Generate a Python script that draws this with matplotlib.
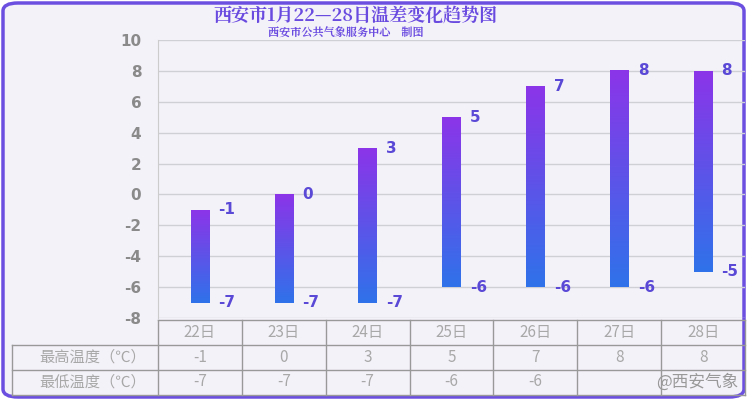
import numpy as np
import matplotlib
matplotlib.use("Agg")
import matplotlib.pyplot as plt
from matplotlib.patches import FancyBboxPatch
from matplotlib.colors import LinearSegmentedColormap

plt.rcParams['font.family'] = ['Noto Sans CJK SC', 'DejaVu Sans']

days = ["22日", "23日", "24日", "25日", "26日", "27日", "28日"]
highs = [-1, 0, 3, 5, 7, 8, 8]
lows = [-7, -7, -7, -6, -6, -6, -5]
table_lows = [-7, -7, -7, -6, -6, "", ""]

W, H = 747, 400
fig = plt.figure(figsize=(W / 100, H / 100), dpi=100)
fig.patch.set_facecolor("white")

def fx(px):
    return px / W

def fy(py):
    return 1 - py / H

# rounded frame
frame = FancyBboxPatch((fx(3), fy(397)), fx(741), 394 / H,
                       boxstyle="round,pad=0,rounding_size=0.02",
                       transform=fig.transFigure, facecolor="#f4f2f9",
                       edgecolor="#6b4fe0", linewidth=2.5, zorder=-5)
fig.patches.append(frame)

left, right, top, bottom = 158, 745, 40, 318
ax = fig.add_axes([fx(left), fy(bottom), fx(right - left), (bottom - top) / H])
ax.set_zorder(2)
ax.set_facecolor("none")
ax.set_yticks(range(-8, 11, 2))
ax.set_yticklabels([str(v) for v in range(-8, 11, 2)], color="#8a8a8a",
                   fontsize=11, fontweight="bold", family="DejaVu Sans")
ax.tick_params(axis="y", length=0, pad=12)
ax.set_xticks([])
ax.grid(axis="y", color="#cfcfd6", linewidth=1)
for s in ["top", "right", "bottom"]:
    ax.spines[s].set_visible(False)
ax.spines["left"].set_color("#cccccc")

cmap = LinearSegmentedColormap.from_list("g", ["#2f72ea", "#8b35e8"])
grad = np.linspace(0, 1, 100).reshape(-1, 1)
bw = 0.22
for i, (h, l) in enumerate(zip(highs, lows)):
    ax.imshow(grad, extent=(i - bw / 2, i + bw / 2, l, h), origin="lower",
              cmap=cmap, aspect="auto", zorder=3)
    ax.text(i + 0.22, h, str(h), color="#5a48d6", fontsize=11,
            fontweight="bold", va="center", ha="left", family="DejaVu Sans")
    ax.text(i + 0.22, l, str(l), color="#5a48d6", fontsize=11,
            fontweight="bold", va="center", ha="left", family="DejaVu Sans")
ax.set_xlim(-0.5, 6.5)
ax.set_ylim(-8, 10)

# titles
fig.text(fx(355), fy(17), "西安市1月22—28日温差变化趋势图", ha="center", va="center",
         fontsize=13, fontweight="bold", color="#6a4be0", family="Noto Serif CJK SC")
fig.text(fx(346), fy(33), "西安市公共气象服务中心    制图", ha="center", va="center",
         fontsize=8, fontweight="bold", color="#6a4be0", family="Noto Serif CJK SC")

# table
col_w = (right - left) / 7
line_kw = dict(color="#999999", linewidth=1, transform=fig.transFigure)
rows_y = [320, 345, 370, 395]
fig.add_artist(plt.Line2D([fx(left), fx(right)], [fy(320), fy(320)], **line_kw))
for y in rows_y[1:]:
    fig.add_artist(plt.Line2D([fx(12), fx(right)], [fy(y), fy(y)], **line_kw))
fig.add_artist(plt.Line2D([fx(12), fx(12)], [fy(345), fy(395)], **line_kw))
for i in range(8):
    x = left + i * col_w
    fig.add_artist(plt.Line2D([fx(x), fx(x)], [fy(320), fy(395)], **line_kw))
tcol = "#a8a8a8"
for i in range(7):
    cx = fx(left + (i + 0.5) * col_w)
    fig.text(cx, fy(332), days[i], ha="center", va="center", fontsize=11, color=tcol)
    fig.text(cx, fy(357), str(highs[i]), ha="center", va="center", fontsize=11, color=tcol)
    fig.text(cx, fy(382), str(table_lows[i]), ha="center", va="center", fontsize=11, color=tcol)
fig.text(fx(146), fy(357), "最高温度（℃）", ha="right", va="center", fontsize=11, color=tcol)
fig.text(fx(146), fy(382), "最低温度（℃）", ha="right", va="center", fontsize=11, color=tcol)
fig.text(fx(738), fy(382), "@西安气象", ha="right", va="center", fontsize=12, color="#999999")

fig.savefig("out.png", dpi=100)
